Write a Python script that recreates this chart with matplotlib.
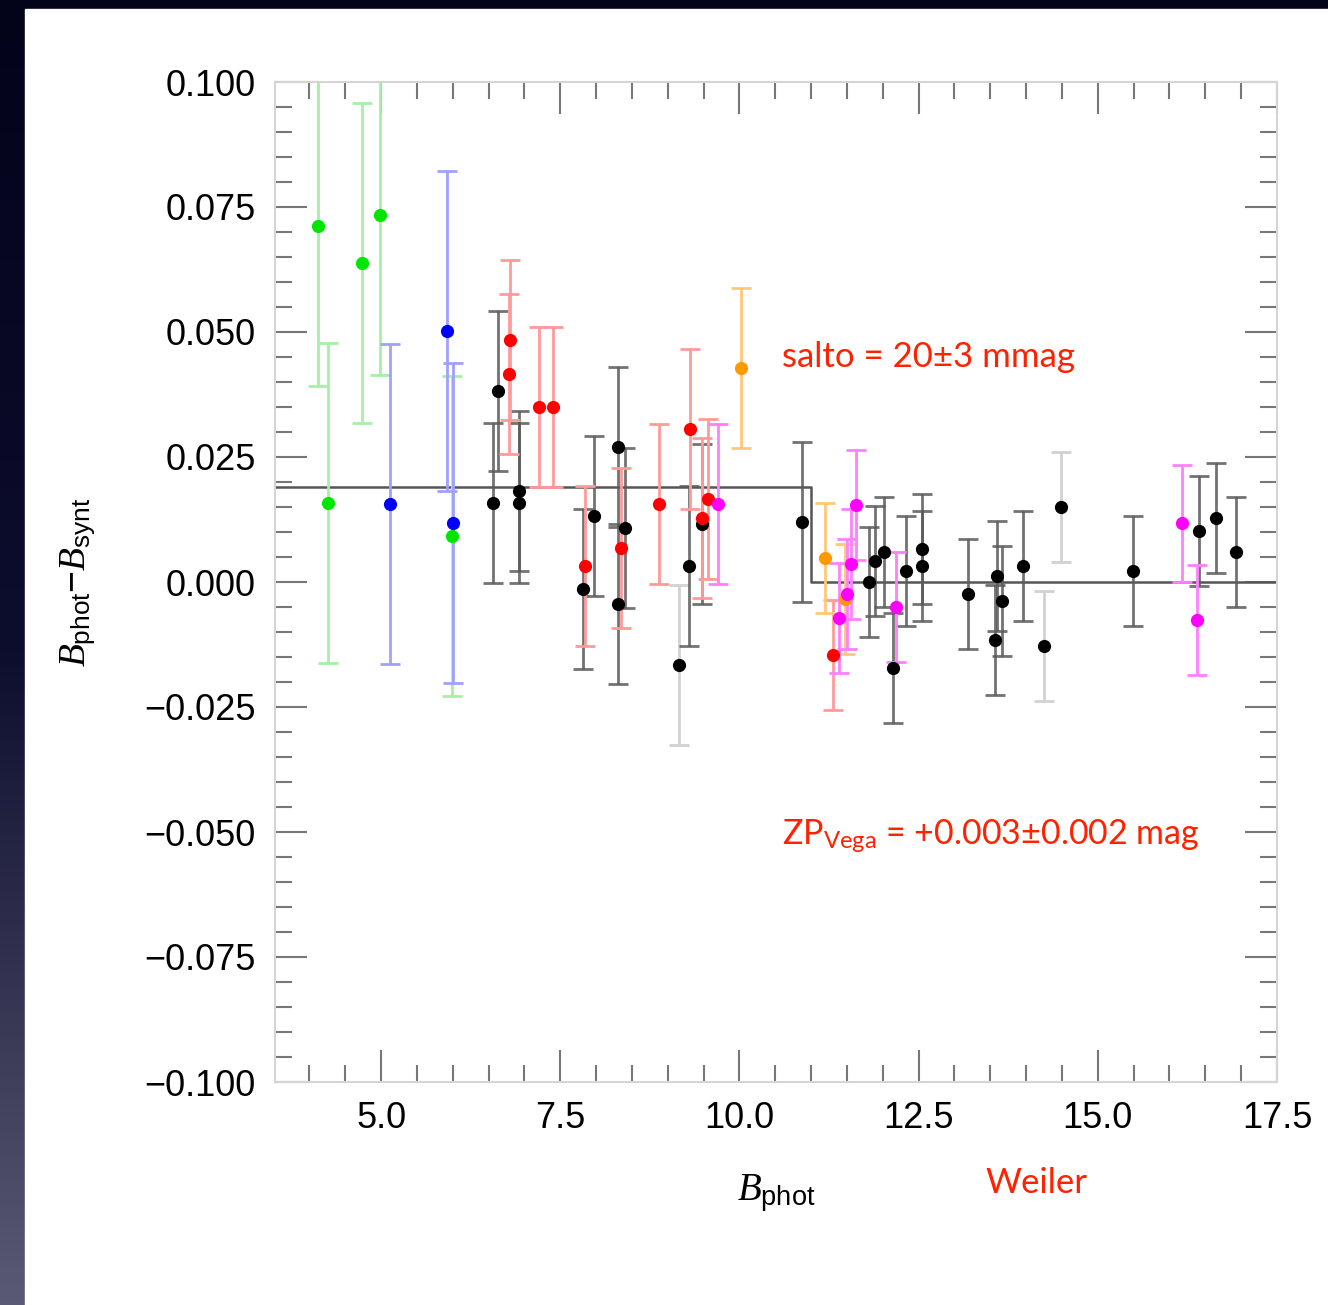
import numpy as np
import matplotlib
matplotlib.use('Agg')
import matplotlib.pyplot as plt
from matplotlib.patches import Rectangle
from matplotlib.ticker import MultipleLocator, FuncFormatter

# ---- data ----
green_x = [4.12, 4.73, 4.98, 4.26, 5.99]
green_y = [0.0713, 0.0638, 0.0735, 0.0158, 0.0092]
green_err = [0.032, 0.032, 0.032, 0.032, 0.032]

blue_x = [5.12, 5.92, 6.00]
blue_y = [0.0157, 0.0502, 0.0119]
blue_err = [0.032, 0.032, 0.032]

red_x = [6.80, 6.78, 7.21, 7.40, 7.85, 8.35, 8.88, 9.31, 9.56, 9.48, 11.31]
red_y = [0.0485, 0.0416, 0.0350, 0.0350, 0.0032, 0.0068, 0.0157, 0.0306, 0.0167, 0.0128, -0.0145]
red_err = [0.016, 0.016, 0.016, 0.016, 0.016, 0.016, 0.016, 0.016, 0.016, 0.016, 0.011]

orange_x = [10.02, 11.20, 11.47]
orange_y = [0.0428, 0.0048, -0.0033]
orange_err = [0.016, 0.011, 0.011]

magenta_x = [9.70, 11.63, 11.55, 11.50, 11.39, 12.18, 16.18, 16.39]
magenta_y = [0.0157, 0.0155, 0.0037, -0.0023, -0.0071, -0.0049, 0.0118, -0.0075]
magenta_err = [0.016, 0.011, 0.011, 0.011, 0.011, 0.011, 0.0117, 0.011]

black_x = [6.63, 6.56, 6.93, 6.93, 7.97, 7.82, 8.30, 8.30, 8.40, 9.29, 9.16, 9.48,
           10.87, 11.81, 11.89, 12.02, 12.33, 12.55, 12.55, 12.14, 13.19, 13.60,
           13.56, 13.67, 13.96, 14.25, 14.49, 15.49, 16.41, 16.65, 16.93]
black_y = [0.0382, 0.0158, 0.0182, 0.0159, 0.0132, -0.0014, 0.0270, -0.0044, 0.0108,
           0.0032, -0.0166, 0.0117, 0.0120, 0.0001, 0.0043, 0.0060, 0.0023, 0.0067,
           0.0033, -0.0172, -0.0023, 0.0012, -0.0115, -0.0038, 0.0033, -0.0127,
           0.0151, 0.0022, 0.0103, 0.0129, 0.0060]
black_err = [0.016] * 13 + [0.011] * 18
black_faint = [False, False, False, False, False, False, False, False, False, False, True, False,
               False, False, False, False, False, False, False, False, False, False,
               False, False, False, True, True, False, False, False, False]

# step: mean offset below / above the jump
step_x = [3.52, 11.0, 11.0, 17.5]
step_y = [0.019, 0.019, 0.0, 0.0]

W, H = 1328, 1305
fig = plt.figure(figsize=(W / 100, H / 100), dpi=100)

plt.rcParams['mathtext.fontset'] = 'custom'
plt.rcParams['mathtext.it'] = 'Liberation Serif:italic'
plt.rcParams['mathtext.sf'] = 'Liberation Sans'
plt.rcParams['mathtext.rm'] = 'Lato'

# dark slide background with white panel
bg = fig.add_axes([0, 0, 1, 1])
grad = np.linspace(0, 1, 256).reshape(-1, 1)
cmap = matplotlib.colors.LinearSegmentedColormap.from_list('bg', ['#03031a', '#0d0d2e', '#5a5a74'])
bg.imshow(grad, aspect='auto', cmap=cmap, extent=[0, 1, 0, 1], origin='upper')
bg.add_patch(Rectangle((25 / W, 0), 1, 1 - 9 / H, color='white'))
bg.set_xlim(0, 1)
bg.set_ylim(0, 1)
bg.axis('off')

ax = fig.add_axes([275 / W, 1 - 1082 / H, (1277 - 275) / W, 1000 / H])

def draw(x, y, err, mc, ec):
    ax.errorbar(x, y, yerr=err, fmt='none', ecolor=ec, elinewidth=2,
                capsize=7, capthick=2, zorder=3)
    ax.plot(x, y, 'o', color=mc, markersize=9.5, markeredgewidth=0, zorder=4)

ax.plot(step_x, step_y, color='#555555', lw=1.8, zorder=2)

bx = np.array(black_x)
by = np.array(black_y)
be = np.array(black_err)
bf = np.array(black_faint)
ax.errorbar(bx[bf], by[bf], yerr=be[bf], fmt='none', ecolor='#d2d2d2', elinewidth=2,
            capsize=7, capthick=2, zorder=2)
ax.errorbar(bx[~bf], by[~bf], yerr=be[~bf], fmt='none', ecolor='#5a5a5a', elinewidth=2,
            capsize=7, capthick=2, zorder=2, alpha=0.85)
ax.plot(bx, by, 'o', color='black', markersize=9.5, markeredgewidth=0, zorder=4)

draw(green_x, green_y, green_err, '#00e600', '#a6f0a6')
draw(blue_x, blue_y, blue_err, '#0000ff', '#a0a0ff')
draw(red_x, red_y, red_err, '#ff0000', '#ff9a9a')
draw(orange_x, orange_y, orange_err, '#ff9900', '#ffc878')
draw(magenta_x, magenta_y, magenta_err, '#ff00ff', '#ff80ff')

ax.set_xlim(3.52, 17.5)
ax.set_ylim(-0.1, 0.1)
ax.xaxis.set_major_locator(MultipleLocator(2.5))
ax.xaxis.set_minor_locator(MultipleLocator(0.5))
ax.yaxis.set_major_locator(MultipleLocator(0.025))
ax.yaxis.set_minor_locator(MultipleLocator(0.005))
ax.xaxis.set_major_formatter(FuncFormatter(lambda v, p: '%.1f' % v))
ax.yaxis.set_major_formatter(FuncFormatter(lambda v, p: ('%.3f' % v).replace('-', '\u2212')))
ax.tick_params(which='both', direction='in', top=True, right=True, color='#777777',
               width=1.5, labelsize=26, labelfontfamily='Liberation Sans')
ax.tick_params(which='major', length=23, pad=14)
ax.tick_params(which='minor', length=12)
for s in ax.spines.values():
    s.set_color('#d5d5d5')
    s.set_linewidth(1.5)

ax.set_ylabel(r'$\mathit{B}_{\mathsf{phot}}\mathsf{-}\mathit{B}_{\mathsf{synt}}$', fontsize=27, labelpad=34)
ax.set_xlabel(r'$\mathit{B}_{\mathsf{phot}}$', fontsize=28, labelpad=26)

red = '#ff2200'
fig.text(782 / W, 1 - 357 / H, 'salto = 20±3 mmag', color=red, fontsize=25,
         family='Lato', va='center')
fig.text(782 / W, 1 - 836 / H, r'ZP$_{\mathrm{Vega}}$ = +0.003±0.002 mag', color=red,
         fontsize=24.5, family='Lato', va='center')
fig.text(985 / W, 1 - 1183 / H, 'Weiler', color=red, fontsize=25, family='Lato', va='center')

fig.savefig('out.png', dpi=100)
